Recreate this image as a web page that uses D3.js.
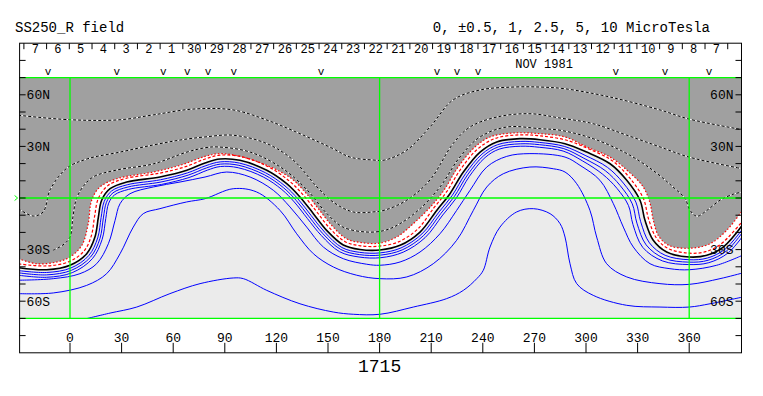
<!DOCTYPE html>
<html>
<head>
<meta charset="utf-8">
<script src="https://cdn.jsdelivr.net/npm/d3@7"></script>
<style>
  body { margin: 0; background: #fff; }
  text { font-family: "Liberation Mono", monospace; fill: #000; }
</style>
</head>
<body>
<div class="canvas"></div>
<script>
// ---------- data (lon, lat in degrees) ----------
const dayLabels = ["7", "6", "5", "4", "3", "2", "1", "30", "29", "28", "27", "26", "25", "24",
  "23", "22", "21", "20", "19", "18", "17", "16", "15", "14", "13", "12", "11", "10", "9", "8", "7"];
const firstDayLon = -20.2;   // centre of first (Dec 7) label
const dayStep = 13.2;        // degrees of Carrington longitude per day
const markLons = [-12.8, 27.2, 54.2, 68.2, 80.2, 95.3, 145.9, 213.4, 225, 237.2, 317.4, 346, 371.5];
const lonTicks = [0, 30, 60, 90, 120, 150, 180, 210, 240, 270, 300, 330, 360];
const latTicks = d3.range(-80, 81, 10);
const latLabels = [[60, "60N"], [30, "30N"], [-30, "30S"], [-60, "60S"]];
const gridLons = [0, 180, 360];
const gridLats = [70, 0, -70];

// neutral line (black)
const neutralLine = [[-30,-40.5],[-13.6,-41.7],[0,-39.1],[9.7,-32.4],[14.5,-22.7],[16.5,-11.1],[18.4,-1.3],
  [23.3,5.4],[33.0,9.3],[52.3,12.2],[67.9,16.1],[78.5,20.4],[87.2,22.7],[98.8,21.9],[114.4,16.1],
  [126.0,8.3],[133.7,0.6],[141.5,-9.1],[149.2,-18.8],[158.9,-27.3],[168.6,-29.9],[180.2,-30.2],
  [191.9,-27.5],[203.5,-19.8],[213.2,-7.2],[220.9,2.5],[228.7,15.1],[238.4,26.7],[248.1,32.6],
  [261.6,34.5],[273.3,33.9],[287.8,31.6],[300.4,26.7],[314.0,19.9],[323.7,10.3],[331.4,-1.3],
  [334.3,-13.0],[339.1,-24.6],[346.9,-31.4],[360.1,-34.3],[370.2,-33.3],[379.8,-28.5],[391,-15.7]];

// edge of the shaded (negative) region, drawn red dotted
const grayEdge = [[-30,-35.3],[-19.4,-38.2],[-7.7,-37.2],[0,-34.3],[7.0,-27.3],[10.6,-14.9],[12.6,-1.3],
  [17.4,6.4],[27.2,11.2],[48.4,15.1],[64.0,19.0],[78.5,24.2],[87.2,25.8],[98.8,24.2],[114.4,19.0],
  [128.5,11.5],[136.8,3.3],[144.7,-6.6],[152.2,-16.0],[160.9,-23.8],[169.2,-25.9],[180.2,-26.2],
  [189.9,-22.7],[199.6,-14.9],[210.0,-4.7],[217.6,4.8],[225.3,17.5],[235.6,29.8],[244.2,35.5],
  [257.7,37.8],[273.3,37.4],[287.8,35.5],[300.4,29.7],[314.0,23.8],[325.0,15.1],[333.3,6.4],
  [337.2,-2.9],[339.1,-12.8],[342.4,-22.4],[348.6,-27.7],[360.2,-29.2],[372.1,-26.6],[381.8,-18.8],[391,-7.2]];

// red dashed contour
const redDash = [[-30,-38.3],[-13.6,-39.5],[-0.6,-37.0],[8.1,-30.9],[12.4,-22.0],[14.3,-10.7],[16.4,-0.5],
  [22.0,7.2],[32.5,11.4],[51.9,14.4],[67.2,18.2],[77.8,22.4],[87.1,24.9],[99.4,24.1],[115.4,18.1],
  [127.4,10.0],[135.4,2.0],[143.2,-7.7],[150.8,-17.3],[160.0,-25.4],[168.9,-27.8],[180.0,-28.0],
  [191.0,-25.5],[202.0,-18.2],[211.5,-5.8],[219.1,3.8],[226.9,16.4],[236.9,28.4],[247.4,34.7],
  [261.5,36.7],[273.5,36.1],[288.3,33.7],[301.3,28.7],[315.2,21.7],[325.4,11.7],[333.4,-0.4],
  [336.4,-12.3],[341.0,-23.4],[347.8,-29.4],[360.2,-32.1],[369.6,-31.2],[378.4,-26.8],[391,-13.5]];

// positive contours (blue)
const blue1 = [[-30,-42.2],[-13.6,-43.3],[0.5,-40.7],[10.9,-33.5],[16.1,-23.2],[18.1,-11.3],[19.9,-2.0],
  [24.2,4.1],[33.3,7.7],[52.6,10.6],[68.3,14.6],[79.0,18.8],[87.3,21.0],[98.5,20.3],[113.6,14.7],
  [125.0,7.0],[132.5,-0.5],[140.2,-10.2],[148.1,-19.9],[158.1,-28.8],[168.4,-31.6],[180.4,-31.9],
  [192.5,-29.0],[204.6,-20.9],[214.5,-8.2],[222.3,1.6],[230.0,14.2],[239.5,25.5],[248.6,31.0],
  [261.7,32.9],[273.1,32.3],[287.4,30.0],[299.5,24.8],[312.5,17.8],[321.7,8.7],[329.0,-2.4],
  [331.8,-13.8],[336.9,-26.1],[346.0,-33.3],[359.9,-35.9],[370.6,-34.9],[380.9,-29.7],[392,-16.7]];
const blue2 = [[-30,-43.5],[-13.6,-44.7],[0.9,-42.0],[11.9,-34.4],[17.4,-23.6],[19.4,-11.6],[21.2,-2.5],
  [25.0,3.0],[33.7,6.4],[52.9,9.3],[68.7,13.3],[79.4,17.5],[87.4,19.7],[98.2,19.0],[113.0,13.5],
  [124.1,6.0],[131.5,-1.4],[139.1,-11.0],[147.1,-20.8],[157.4,-29.9],[168.2,-32.9],[180.5,-33.2],
  [193.1,-30.2],[205.5,-21.9],[215.6,-9.0],[223.4,0.8],[231.1,13.4],[240.4,24.5],[249.0,29.7],
  [261.8,31.5],[272.9,31.0],[287.1,28.7],[298.8,23.1],[311.2,15.9],[319.9,7.2],[326.9,-3.4],
  [329.6,-14.6],[335.0,-27.3],[345.3,-35.0],[359.8,-37.3],[371.0,-36.2],[381.8,-30.7],[392.7,-17.6]];
const blue3 = [[-30,-44.9],[-13.6,-46.1],[1.3,-43.4],[13.0,-35.3],[18.7,-24.0],[20.8,-11.9],[22.5,-3.0],
  [25.9,1.8],[34.0,5.0],[53.2,7.9],[69.2,11.9],[79.9,16.2],[87.4,18.3],[97.8,17.6],[112.4,12.2],
  [123.2,4.9],[130.4,-2.3],[138.0,-11.9],[146.1,-21.8],[156.7,-31.2],[168.0,-34.3],[180.7,-34.7],
  [193.7,-31.5],[206.5,-23.0],[216.7,-9.9],[224.6,0.0],[232.2,12.6],[241.3,23.5],[249.5,28.4],
  [261.9,30.1],[272.8,29.5],[286.7,27.3],[298.1,21.5],[309.7,13.8],[318.0,5.6],[324.7,-4.4],
  [327.3,-15.4],[333.0,-28.7],[344.5,-36.6],[359.7,-38.7],[371.4,-37.6],[382.8,-31.8],[393.8,-18.5]];
const blue4 = [[-30,-47.8],[-9.7,-46.9],[5.8,-44.0],[15.5,-38.2],[22.3,-26.6],[26.2,-13.0],[29.1,-3.3],
  [34.9,2.5],[48.4,6.4],[64.0,9.3],[78.5,12.2],[91.1,15.1],[104.7,12.2],[118.2,4.5],[127.9,-5.2],
  [137.6,-16.9],[147.3,-28.5],[158.9,-35.3],[172.5,-38.5],[180.2,-39.1],[191.9,-37.2],[203.5,-31.4],
  [215.1,-20.8],[224.8,-7.2],[232.6,4.5],[242.3,18.0],[253.9,24.2],[267.4,25.8],[287.8,23.8],
  [296.5,19.0],[308.1,10.3],[315.9,-3.3],[321.7,-16.9],[327.5,-28.5],[337.2,-38.2],[348.8,-41.1],
  [360.1,-41.7],[376.0,-39.1],[391,-33.3]];
const blue5 = [[-30,-55.6],[-9.7,-55.2],[9.7,-50.8],[21.3,-44.0],[29.1,-32.4],[36.8,-16.9],[42.6,-9.1],
  [52.3,-6.2],[67.8,-2.3],[78.5,-0.4],[94.9,5.4],[108.5,3.5],[122.1,-7.2],[131.8,-20.8],[141.5,-32.4],
  [153.1,-40.1],[166.7,-44.9],[180.2,-46.9],[195.8,-45.9],[211.2,-38.2],[224.8,-24.6],[234.5,-7.2],
  [242.3,6.4],[251.9,14.1],[267.4,18.0],[281.0,17.0],[287.8,15.1],[294.6,8.3],[302.3,-7.2],
  [306.2,-22.7],[312.0,-38.2],[323.7,-45.9],[343.0,-49.8],[360.1,-50.2],[377.9,-46.9],[391,-43.6]];
const blue6 = [[8.1,-70.5],[23.3,-66.9],[38.8,-63.4],[58.1,-55.6],[75.6,-49.8],[94.9,-46.5],[100.8,-46.9],
  [114.4,-53.7],[133.7,-61.5],[153.1,-66.3],[164.7,-67.6],[180.2,-67.6],[199.6,-63.4],[219.0,-58.5],
  [228.7,-53.7],[236.5,-46.9],[240.3,-42.0],[244.2,-28.5],[250.0,-16.9],[259.7,-8.1],[269.4,-6.2],
  [279.1,-9.1],[284.9,-14.9],[287.8,-22.7],[290.7,-38.2],[294.6,-49.8],[304.2,-56.6],[323.7,-62.4],
  [343.0,-63.4],[360.1,-63.4],[372.1,-61.5],[391,-57.6]];

// negative contours (black/white dashed)
const dash1 = [[-30,48.1],[0,45.5],[29.1,45.5],[48.3,48.3],[71.5,51.7],[94.8,51.2],[114.5,45.3],
  [133.7,37.4],[152.9,28.7],[162.8,23.8],[176.2,22.1],[183.1,22.1],[195.9,27.9],[209.3,41.3],
  [222.7,57.0],[238.4,62.8],[257.6,64.5],[273.3,64.5],[287.8,63.5],[314.0,58.7],[343.0,51.2],
  [359.9,45.9],[391,39.7]];
const dash2 = [[-30,-6.2],[-21.3,-10.5],[-15.5,-8.0],[-11.6,4.7],[-1.9,17.3],[9.9,22.7],[29.1,26.7],
  [48.3,30.8],[64.0,33.7],[78.5,35.5],[94.8,36.5],[114.5,31.6],[129.7,22.1],[143.6,6.4],[152.9,-2.3],
  [164.5,-8.1],[176.2,-8.1],[183.1,-7.0],[195.9,-1.2],[209.3,10.5],[222.7,31.6],[232.6,41.3],
  [248.3,47.1],[267.4,49.0],[284.9,46.5],[304.1,43.2],[323.8,36.5],[343.0,29.7],[359.9,23.8],[391,17.0]];
const dash3 = [[-9.9,-30.4],[-4.1,-27.3],[0,-22.7],[1.7,-11.0],[3.5,-1.2],[7.0,5.8],[13.4,12.2],
  [27.3,16.3],[48.3,19.8],[68.0,26.7],[78.5,29.2],[85.5,29.7],[104.7,26.7],[123.8,17.0],[137.8,4.7],
  [149.4,-9.1],[158.7,-16.9],[172.7,-19.8],[183.1,-18.8],[191.9,-14.9],[203.5,-6.2],[215.1,6.4],
  [226.7,23.8],[238.4,35.5],[254.1,41.3],[273.3,40.3],[284.9,39.4],[304.1,34.5],[323.8,25.8],
  [338.9,16.1],[350.6,6.4],[357.6,-0.4],[360.5,-7.2],[364.5,-10.6],[370.3,-7.2],[377.9,-1.3],
  [385.5,2.2],[391,3.5]];

// ---------- layout ----------
const width = 763, height = 396;
const lonMin = -29.3, lonMax = 390.4;

const x = d3.scaleLinear().domain([0, 360]).range([70, 689.2]);
const y = d3.scaleLinear().domain([-90, 90]).range([352.8, 43.2]);

const svg = d3.select(".canvas").append("svg")
  .attr("width", width).attr("height", height);

const line = d3.line()
  .x((d) => x(d[0]))
  .y((d) => y(d[1]))
  .curve(d3.curveCatmullRom.alpha(0.5));

svg.append("defs").append("clipPath").attr("id", "plot")
  .append("rect")
  .attr("x", x(lonMin)).attr("y", y(70))
  .attr("width", x(lonMax) - x(lonMin)).attr("height", y(-70) - y(70));

const plot = svg.append("g").attr("clip-path", "url(#plot)");

// region fills: positive (light), band (white), negative (grey)
const capTop = `L${x(400)},${y(80)}L${x(-40)},${y(80)}Z`;
plot.append("rect")
  .attr("x", x(lonMin)).attr("y", y(70))
  .attr("width", x(lonMax) - x(lonMin)).attr("height", y(-70) - y(70))
  .attr("fill", "#ebebeb");
plot.append("path").attr("d", line(neutralLine) + capTop).attr("fill", "#ffffff");
plot.append("path").attr("d", line(grayEdge) + capTop).attr("fill", "#a0a0a0");

// dashed negative contours
[dash1, dash2, dash3].forEach((c) => {
  plot.append("path").attr("d", line(c)).attr("fill", "none")
    .attr("stroke", "#fff").attr("stroke-width", 1);
  plot.append("path").attr("d", line(c)).attr("fill", "none")
    .attr("stroke", "#000").attr("stroke-width", 1).attr("stroke-dasharray", "3,2");
});

// blue positive contours
[blue1, blue2, blue3, blue4, blue5, blue6].forEach((c) => {
  plot.append("path").attr("d", line(c)).attr("fill", "none")
    .attr("stroke", "#0000ff").attr("stroke-width", 1);
});

// red contours around the neutral line
plot.append("path").attr("d", line(grayEdge)).attr("fill", "none")
  .attr("stroke", "#ff0000").attr("stroke-width", 1.2).attr("stroke-dasharray", "1.5,2");
plot.append("path").attr("d", line(redDash)).attr("fill", "none")
  .attr("stroke", "#ff0000").attr("stroke-width", 1.2).attr("stroke-dasharray", "3,2");
plot.append("path").attr("d", line(neutralLine)).attr("fill", "none")
  .attr("stroke", "#000").attr("stroke-width", 1.6);

// green grid
const green = "#00ff00";
gridLons.forEach((lon) => {
  svg.append("line")
    .attr("x1", x(lon)).attr("x2", x(lon))
    .attr("y1", y(70)).attr("y2", y(-70))
    .attr("stroke", green).attr("stroke-width", 1.3);
});
gridLats.forEach((lat) => {
  svg.append("line")
    .attr("x1", x(lonMin)).attr("x2", x(lonMax))
    .attr("y1", y(lat)).attr("y2", y(lat))
    .attr("stroke", green).attr("stroke-width", 1.3);
});
svg.append("path")
  .attr("d", `M${x(lonMin) - 5},${y(0) - 2.5}L${x(lonMin) - 2},${y(0)}L${x(lonMin) - 5},${y(0) + 2.5}`)
  .attr("fill", "none").attr("stroke", green);

// frame
svg.append("rect")
  .attr("x", x(lonMin)).attr("y", y(90))
  .attr("width", x(lonMax) - x(lonMin)).attr("height", y(-90) - y(90))
  .attr("fill", "none").attr("stroke", "#000");

// latitude ticks + labels on both sides
latTicks.forEach((lat) => {
  svg.append("line")
    .attr("x1", x(lonMin)).attr("x2", x(lonMin) + 6)
    .attr("y1", y(lat)).attr("y2", y(lat)).attr("stroke", "#000");
  svg.append("line")
    .attr("x1", x(lonMax)).attr("x2", x(lonMax) - 6)
    .attr("y1", y(lat)).attr("y2", y(lat)).attr("stroke", "#000");
});
latLabels.forEach(([lat, label]) => {
  svg.append("text").attr("x", x(lonMin) + 7).attr("y", y(lat) + 4.5)
    .attr("font-size", 13).text(label);
  svg.append("text").attr("x", x(lonMax) - 8).attr("y", y(lat) + 4.5)
    .attr("text-anchor", "end").attr("font-size", 13).text(label);
});

// longitude axis at the bottom
lonTicks.forEach((lon) => {
  svg.append("line")
    .attr("x1", x(lon)).attr("x2", x(lon))
    .attr("y1", y(-90)).attr("y2", y(-90) - 10).attr("stroke", "#000");
  svg.append("text").attr("x", x(lon)).attr("y", 342)
    .attr("text-anchor", "middle").attr("font-size", 13).text(lon);
});

// day strip along the top
dayLabels.forEach((d, i) => {
  const lon = firstDayLon + i * dayStep;
  svg.append("line")
    .attr("x1", x(lon - dayStep / 2)).attr("x2", x(lon - dayStep / 2))
    .attr("y1", y(90)).attr("y2", y(90) + 6).attr("stroke", "#000");
  svg.append("text").attr("x", x(lon)).attr("y", 53)
    .attr("text-anchor", "middle").attr("font-size", 12).text(d);
});
svg.append("line")
  .attr("x1", x(firstDayLon + (dayLabels.length - 0.5) * dayStep))
  .attr("x2", x(firstDayLon + (dayLabels.length - 0.5) * dayStep))
  .attr("y1", y(90)).attr("y2", y(90) + 6).attr("stroke", "#000");

svg.append("text").attr("x", x(275.6)).attr("y", 67.5)
  .attr("text-anchor", "middle").attr("font-size", 12).text("NOV 1981");

markLons.forEach((lon) => {
  svg.append("text").attr("x", x(lon)).attr("y", 75)
    .attr("text-anchor", "middle").attr("font-size", 11).text("v");
});

// titles
svg.append("text").attr("x", 15).attr("y", 32).attr("font-size", 14).text("SS250_R field");
svg.append("text").attr("x", 710).attr("y", 32).attr("text-anchor", "end")
  .attr("font-size", 14).text("0, \u00b10.5, 1, 2.5, 5, 10 MicroTesla");
svg.append("text").attr("x", x(180)).attr("y", 372).attr("text-anchor", "middle")
  .attr("font-size", 18).text("1715");
</script>
</body>
</html>
